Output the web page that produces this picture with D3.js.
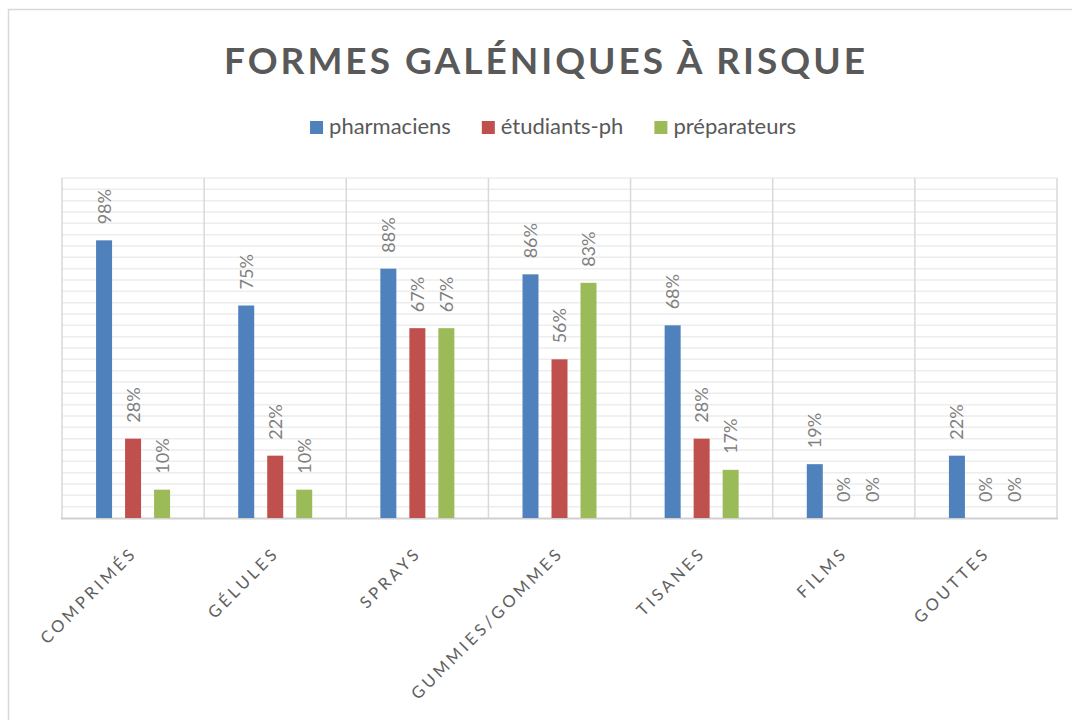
<!DOCTYPE html>
<html>
<head>
<meta charset="utf-8">
<script src="https://cdn.jsdelivr.net/npm/d3@7"></script>
<style>
  body { margin: 0; background: #fff; }
  svg { display: block; font-family: Lato, "Open Sans", sans-serif; }
</style>
</head>
<body>
<div id="chart"></div>
<script>
// data
var categories = ["COMPRIMÉS", "GÉLULES", "SPRAYS", "GUMMIES/GOMMES", "TISANES", "FILMS", "GOUTTES"];
var seriesNames = ["pharmaciens", "étudiants-ph", "préparateurs"];
var pharmaciens = [0.98, 0.75, 0.88, 0.86, 0.68, 0.19, 0.22];
var etudiants = [0.28, 0.22, 0.67, 0.56, 0.28, 0, 0];
var preparateurs = [0.10, 0.10, 0.67, 0.83, 0.17, 0, 0];
var colors = ["#4f81bd", "#c0504d", "#9bbb59"];

var W = 1072, H = 720;
var margin = {left: 62, right: 15, top: 178, bottom: 202};

var svg = d3.select("#chart").append("svg")
    .attr("width", W).attr("height", H);

// outer chart border
svg.append("rect")
    .attr("x", 8.5).attr("y", 9.5)
    .attr("width", W + 10).attr("height", H + 10)
    .attr("fill", "none").attr("stroke", "#d9d9d9").attr("stroke-width", 1.5);

var x = d3.scaleBand().domain(categories)
    .range([margin.left, W - margin.right]).padding(0);
var xs = d3.scaleBand().domain(seriesNames)
    .range([-37, 37]).paddingInner(13 / 29);
var y = d3.scaleLinear().domain([0, 1.2]).range([H - margin.bottom, margin.top]);

// minor gridlines every 4%
var grid = d3.range(1, 31).map(function(i) { return i * 0.04; });
svg.append("g").selectAll("line").data(grid).enter().append("line")
    .attr("x1", margin.left).attr("x2", W - margin.right)
    .attr("y1", function(d) { return y(d); })
    .attr("y2", function(d) { return y(d); })
    .attr("stroke", "#ededed").attr("stroke-width", 1.5);

// category separators
var seps = categories.map(function(c) { return x(c); }).concat([x.range()[1]]);
svg.append("g").selectAll("line").data(seps).enter().append("line")
    .attr("x1", function(d) { return d; }).attr("x2", function(d) { return d; })
    .attr("y1", y(1.2)).attr("y2", y(0))
    .attr("stroke", "#d9d9d9").attr("stroke-width", 1.5);

// x axis line
svg.append("line")
    .attr("x1", margin.left - 1).attr("x2", W - margin.right + 1)
    .attr("y1", y(0) + 0.5).attr("y2", y(0) + 0.5)
    .attr("stroke", "#d0d0d0").attr("stroke-width", 2);

var table = categories.map(function(c, i) {
  return {cat: c, vals: [pharmaciens[i], etudiants[i], preparateurs[i]]};
});

var groups = svg.append("g").selectAll("g").data(table).enter().append("g")
    .attr("transform", function(d) { return "translate(" + (x(d.cat) + x.bandwidth() / 2) + ",0)"; });

var cells = groups.selectAll("g").data(function(d) {
  return d.vals.map(function(v, j) { return {name: seriesNames[j], v: v, j: j}; });
}).enter().append("g");

cells.append("rect")
    .attr("x", function(d) { return xs(d.name); })
    .attr("width", xs.bandwidth())
    .attr("y", function(d) { return y(d.v); })
    .attr("height", function(d) { return y(0) - y(d.v); })
    .attr("fill", function(d) { return colors[d.j]; });

cells.append("text")
    .attr("transform", function(d) {
      var cx = xs(d.name) + xs.bandwidth() / 2 + 6.5;
      return "translate(" + cx + "," + (y(d.v) - 16) + ") rotate(-90)";
    })
    .attr("fill", "#7f7f7f")
    .style("font-size", "18px")
    .text(function(d) { return Math.round(d.v * 100) + "%"; });

// category labels
svg.append("g").selectAll("text").data(categories).enter().append("text")
    .attr("transform", function(d) {
      return "translate(" + (x(d) + x.bandwidth() / 2 + 5) + "," + (y(0) + 36) + ") rotate(-45)";
    })
    .attr("text-anchor", "end")
    .attr("fill", "#606060")
    .style("font-size", "16.5px")
    .style("letter-spacing", "3.4px")
    .text(function(d) { return d; });

// title
svg.append("text")
    .attr("x", W / 2 + 10).attr("y", 74)
    .attr("text-anchor", "middle")
    .attr("fill", "#595959")
    .style("font-size", "37px").style("font-weight", "bold")
    .style("letter-spacing", "3px")
    .text("FORMES GALÉNIQUES À RISQUE");

// legend
var legend = svg.append("g");
var items = legend.selectAll("g").data(seriesNames).enter().append("g");
items.append("rect").attr("width", 13).attr("height", 13).attr("y", -13)
    .attr("fill", function(d, i) { return colors[i]; });
items.append("text").attr("x", 19).attr("y", 0)
    .attr("fill", "#595959").style("font-size", "22px")
    .text(function(d) { return d; });
var lx = 0;
items.each(function() {
  d3.select(this).attr("transform", "translate(" + lx + ",0)");
  lx += this.getBBox().width + 31;
});
lx -= 31;
legend.attr("transform", "translate(" + (553 - lx / 2) + ",134)");
</script>
</body>
</html>
